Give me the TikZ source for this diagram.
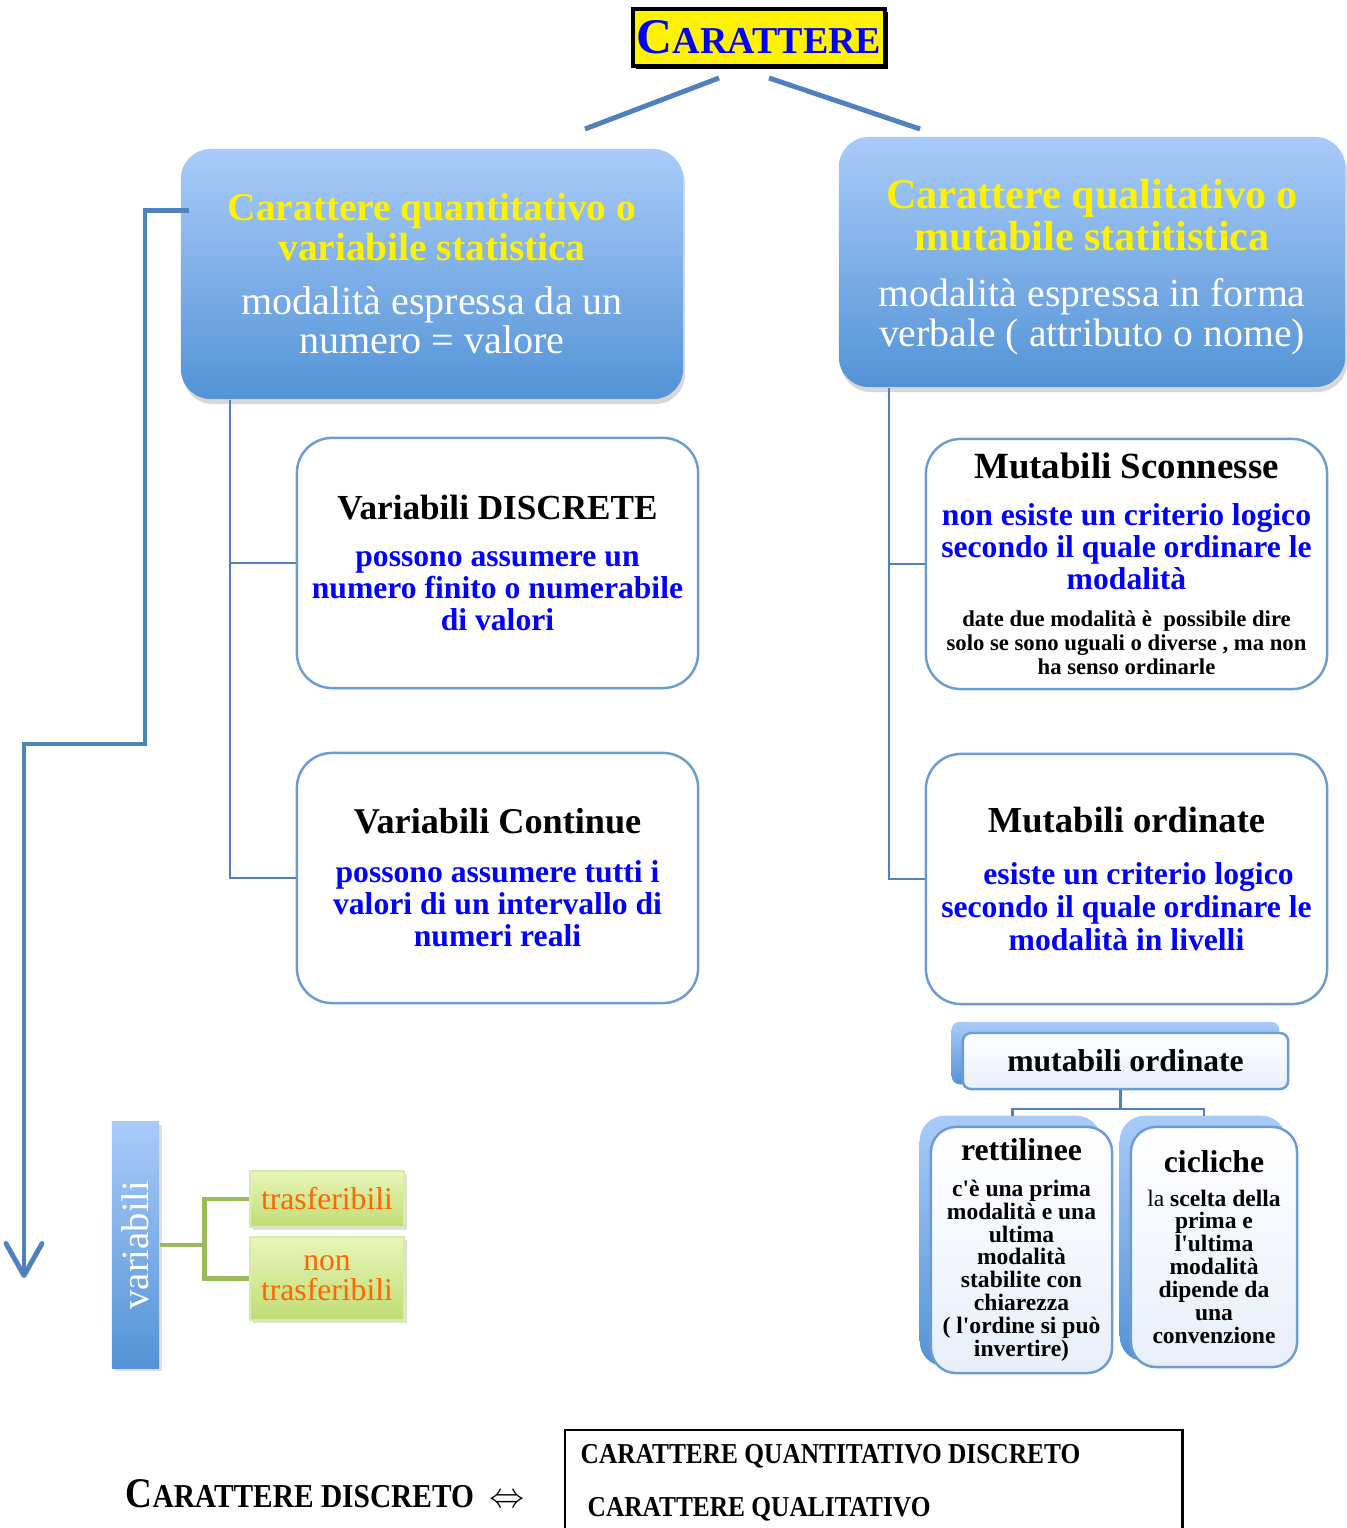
\documentclass[tikz,border=0pt]{standalone}
\usepackage{fontspec}
\setmainfont{Liberation Serif}[Ligatures=TeXOff]
\newfontfamily\condserif[FakeStretch=0.88]{Liberation Serif}
\usepackage{xcolor}
\usetikzlibrary{arrows.meta,shadows,positioning,backgrounds}

\definecolor{linkblue}{HTML}{4F81BD}
\definecolor{boxline}{HTML}{6C9CD2}
\definecolor{shadetop}{HTML}{A9CBF9}
\definecolor{shadebot}{HTML}{5393D6}
\definecolor{tilebot}{HTML}{E8EFFA}
\definecolor{greentop}{HTML}{E8F6B8}
\definecolor{greenbot}{HTML}{C0DC74}
\definecolor{greenline}{HTML}{9BBB59}
\definecolor{orangetxt}{HTML}{FF6600}

\newcommand{\fsz}[2]{\fontsize{#1pt}{#2pt}\selectfont}

\begin{document}
\begin{tikzpicture}[x=0.01cm, y=-0.01cm,
    titlebox/.style={fill=yellow, draw=black, line width=1pt, text=blue, font=\bfseries,
      minimum width=2.52cm, minimum height=0.57cm, inner sep=0pt,
      drop shadow={fill=black, opacity=1, shadow xshift=0.03cm, shadow yshift=-0.03cm}},
    bigbox/.style={rounded corners=0.3cm, top color=shadetop, bottom color=shadebot,
      minimum height=2.5cm, text width=4.9cm, align=flush center, inner sep=0pt,
      drop shadow={opacity=0.3, shadow xshift=0.02cm, shadow yshift=-0.05cm}},
    catbox/.style={draw=boxline, line width=0.7pt, rounded corners=0.35cm, fill=white,
      minimum width=4.01cm, minimum height=2.5cm, text width=3.98cm, align=flush center, inner sep=0pt},
    tile/.style={draw=boxline, line width=0.7pt, top color=white, bottom color=tilebot,
      align=flush center, inner sep=0pt},
    backtile/.style={top color=shadetop, bottom color=shadebot},
    bar/.style={top color=shadetop, bottom color=shadebot, text=white, inner sep=0pt,
      minimum width=0.47cm, minimum height=2.46cm,
      drop shadow={opacity=0.25, shadow xshift=0.03cm, shadow yshift=-0.03cm}},
    gbox/.style={top color=greentop, bottom color=greenbot, draw=greenbot!60!white,
      text=orangetxt, font=\fsz{9}{8.5}, minimum width=1.54cm, align=center, inner sep=0pt,
      drop shadow={opacity=0.25, shadow xshift=0.03cm, shadow yshift=-0.03cm}},
    tree/.style={draw=linkblue, line width=0.7pt},
    heavy/.style={draw=linkblue, line width=1.4pt},
    gtree/.style={draw=greenline, line width=1.4pt}]
\useasboundingbox (0,0) rectangle (1346,1528);

% titolo
\node[titlebox] (car) at (759,37.5) {{\fsz{14.2}{14.2}C}{\fsz{10.8}{10.8}ARATTERE}};
\coordinate (lqt) at (719,78);
\coordinate (lq) at (585,129);
\coordinate (rqt) at (769,78);
\coordinate (rq) at (920,129);
\draw[heavy] (lqt) -- (lq);
\draw[heavy] (rqt) -- (rq);

% i due caratteri
\node[bigbox, minimum width=5.02cm] (quant) at (432,274)
  {{\fsz{11.2}{11.1}\bfseries\color{yellow}Carattere quantitativo o\\ variabile statistica\par}
   \vspace{4.5pt}
   {\fsz{11.4}{11.1}\color{white}modalità espressa da un\\ numero = valore\par}};
\node[bigbox, minimum width=5.06cm] (qual) at (1092,262)
  {{\fsz{12}{12.2}\bfseries\color{yellow}\rule{0pt}{11.2pt}Carattere qualitativo o\\ mutabile statitistica\par}
   \vspace{4.5pt}
   {\fsz{11.3}{11.4}\color{white}modalità espressa in forma\\ verbale ( attributo o nome)\par}};

% variabili
\node[catbox] (disc) at (497.5,563)
  {{\fsz{10}{12}\bfseries Variabili DISCRETE\par}
   \vspace{4.3pt}
   {\fsz{9}{9.1}\bfseries\color{blue}possono assumere un\\ numero finito o numerabile\\ di valori\par}};
\node[catbox] (cont) at (497.5,878)
  {{\fsz{10.3}{12}\bfseries Variabili Continue\par}
   \vspace{4.8pt}
   {\fsz{9}{9.1}\bfseries\color{blue}possono assumere tutti i\\ valori di un intervallo di\\ numeri reali\par}};
\draw[tree] ([xshift=0.5cm]quant.south west) |- (disc.west);
\draw[tree] ([xshift=0.5cm]quant.south west) |- (cont.west);

% mutabili
\node[catbox] (scon) at (1126.5,564)
  {{\fsz{10.5}{12}\bfseries Mutabili Sconnesse\par}
   \vspace{4.3pt}
   {\fsz{9}{9.1}\bfseries\color{blue}non esiste un criterio logico\\ secondo il quale ordinare le\\ modalità\par}
   \vspace{3.7pt}
   {\fsz{6.45}{6.8}\bfseries date due modalità è\ \ possibile dire\\ solo se sono uguali o diverse , ma non\\ ha senso ordinarle\par}};
\node[catbox] (ord) at (1126.5,879)
  {{\fsz{10.4}{12}\bfseries Mutabili ordinate\par}
   \vspace{5.4pt}
   {\fsz{9}{9.3}\bfseries\color{blue}\hspace*{0.24cm}esiste un criterio logico\\ secondo il quale ordinare le\\ modalità in livelli\par}};
\draw[tree] ([xshift=0.51cm]qual.south west) |- (scon.west);
\draw[tree] ([xshift=0.51cm]qual.south west) |- (ord.west);

% freccia a sinistra
\coordinate (elstart) at ([shift={(9,62)}]quant.north west);
\coordinate (elbend) at (145,744);
\coordinate (elend) at (24,1278);
\draw[heavy, -{Straight Barb[length=0.32cm, width=0.36cm, round]}] (elstart) -| (elbend) -| (elend);

% mutabili ordinate
\node[tile, rounded corners=0.08cm, minimum width=3.25cm, minimum height=0.56cm] (mo) at (1125.5,1061)
  {\fsz{9}{9}\bfseries mutabili ordinate};
\node[tile, rounded corners=0.25cm, minimum width=1.81cm, minimum height=2.46cm, text width=1.78cm] (ret) at (1021.5,1250)
  {{\fsz{9}{9}\bfseries rettilinee\par}
   \vspace{3.7pt}
   {\fsz{6.7}{6.5}\bfseries c'è una prima\\ modalità e una\\ ultima\\ modalità\\ stabilite con\\ chiarezza\\ ( l'ordine si può\\ invertire)\par}};
\node[tile, rounded corners=0.25cm, minimum width=1.66cm, minimum height=2.4cm, text width=1.63cm] (cic) at (1214,1247)
  {{\fsz{9}{9}\bfseries cicliche\par}
   \vspace{3pt}
   {\fsz{6.7}{6.5}\bfseries{\mdseries la} scelta della\\ prima e\\ l'ultima\\ modalità\\ dipende da\\ una\\ convenzione\par}};
\draw[tree] ([xshift=-0.05cm]mo.south) -- ++(0,19) coordinate (mj);
\draw[tree, shorten >=0.1cm] (mj) -| ([xshift=-0.09cm]ret.north);
\draw[tree, shorten >=0.1cm] (mj) -| ([xshift=-0.1cm]cic.north);

% variabili trasferibili
\node[bar] (vb) at (135.5,1245) {\rotatebox{90}{\fsz{11}{11}variabili}};
\node[gbox, minimum height=0.56cm] (trf) at (327,1199) {trasferibili};
\node[gbox, minimum height=0.83cm] (ntrf) at (327,1278.5) {non\\ trasferibili};
\draw[gtree] (vb.east) -- ++(45,0) coordinate (gj);
\draw[gtree] (gj) |- (trf.west);
\draw[gtree] (gj) |- (ntrf.west);

% in basso
\node[anchor=base west, inner sep=0pt] (cdisc) at (125,1507)
  {\condserif\bfseries{\fsz{12}{12}C}{\fsz{9.5}{9.5}ARATTERE DISCRETO}\hspace{0.15cm}{\fsz{10}{10}$\Leftrightarrow$}};
\node[anchor=north west, text width=5.86cm, align=flush left, inner xsep=0.15cm, inner ysep=0.14cm,
    font=\condserif\bfseries\fsz{8.2}{15}] (def) at (565,1430)
  {CARATTERE QUANTITATIVO DISCRETO\\ \hspace*{0.07cm}CARATTERE QUALITATIVO};
\draw[line width=0.8pt] ([yshift=-0.1cm]def.south west) |- (def.north east) -- ([yshift=-0.1cm]def.south east);

\begin{scope}[on background layer]
  \fill[white] (0,0) rectangle (1346,1528);
  \path[backtile, rounded corners=0.08cm] ([shift={(-10,-10)}]mo.north west) rectangle ([shift={(-10,-6)}]mo.south east);
  \path[backtile, rounded corners=0.25cm] ([shift={(-10,-10)}]ret.north west) rectangle ([shift={(-12,-8)}]ret.south east);
  \path[backtile, rounded corners=0.25cm] ([shift={(-10,-10)}]cic.north west) rectangle ([shift={(-12,-7)}]cic.south east);
\end{scope}
\end{tikzpicture}
\end{document}
